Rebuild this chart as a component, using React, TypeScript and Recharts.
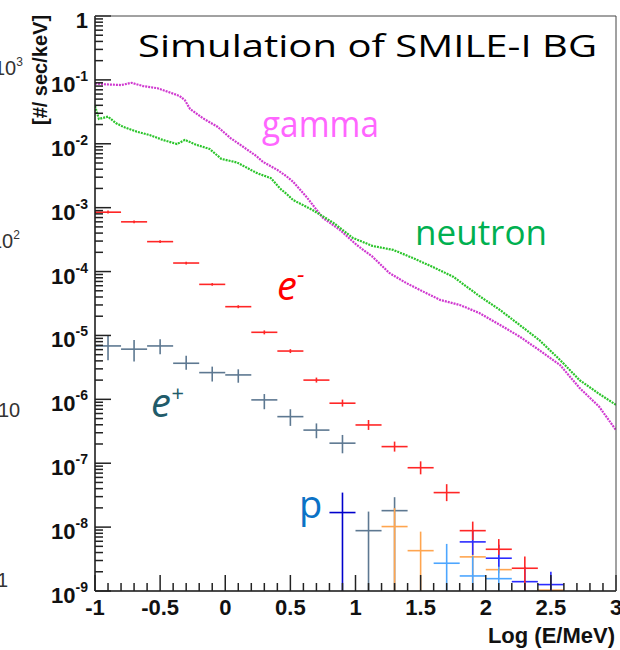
import React from "react";
import { ComposedChart, Line, Scatter, ErrorBar, XAxis, YAxis } from "recharts";

// gamma spectrum (Log E/MeV vs counts/sec/keV)
const gammaLogE = [
  -1.0, -0.96, -0.8, -0.72, -0.63, -0.52, -0.42, -0.35, -0.31, -0.27, -0.17, -0.06, 0.04, 0.14,
  0.24, 0.29, 0.4, 0.47, 0.52, 0.63, 0.75, 0.88, 1.01, 1.13, 1.26, 1.39, 1.52, 1.65, 1.8, 1.95,
  2.11, 2.26, 2.41, 2.57, 2.72, 2.87, 3.0,
];
const gammaRate = [
  0.0885, 0.086, 0.083, 0.09, 0.08, 0.074, 0.063, 0.056, 0.048, 0.035, 0.025, 0.0185, 0.0123,
  0.0089, 0.0064, 0.0052, 0.0039, 0.0031, 0.00255, 0.00142, 6.9e-4, 4.5e-4, 2.6e-4, 1.71e-4,
  9.5e-5, 6.6e-5, 4.85e-5, 3.6e-5, 3.0e-5, 2.25e-5, 1.46e-5, 9.6e-6, 5.9e-6, 3.45e-6, 1.51e-6,
  7.7e-7, 3.3e-7,
];

// neutron spectrum
const neutronLogE = [
  -1.0, -0.97, -0.9, -0.84, -0.78, -0.68, -0.58, -0.48, -0.37, -0.31, -0.22, -0.12, -0.03, 0.09,
  0.14, 0.24, 0.35, 0.42, 0.48, 0.52, 0.67, 0.83, 0.98, 1.13, 1.29, 1.44, 1.59, 1.75, 1.95, 2.11,
  2.26, 2.41, 2.57, 2.72, 2.87, 3.0,
];
const neutronRate = [
  0.039, 0.0244, 0.0266, 0.0211, 0.0183, 0.0155, 0.0137, 0.0115, 0.0099, 0.0115, 0.0096, 0.0083,
  0.0058, 0.0051, 0.0045, 0.0035, 0.0029, 0.002, 0.00158, 0.00132, 9.2e-4, 5.8e-4, 3.36e-4,
  2.52e-4, 2.18e-4, 1.63e-4, 1.19e-4, 8.3e-5, 4.15e-5, 2.5e-5, 1.46e-5, 8.5e-6, 4.14e-6, 2.0e-6,
  1.22e-6, 8.2e-7,
];

// electrons (bin centres, bin width 0.2)
const electronLogE = [-0.9, -0.7, -0.5, -0.3, -0.1, 0.1, 0.3, 0.5, 0.7, 0.9, 1.1, 1.3, 1.5, 1.7, 1.9, 2.1, 2.3];
const electronRate = [
  8.5e-4, 6.0e-4, 2.94e-4, 1.36e-4, 6.3e-5, 2.82e-5, 1.12e-5, 5.7e-6, 2.0e-6, 8.7e-7, 3.97e-7,
  1.82e-7, 8.5e-8, 3.47e-8, 8.8e-9, 4.5e-9, 2.27e-9,
];
const electronLow = [
  8.1e-4, 5.7e-4, 2.8e-4, 1.29e-4, 6.0e-5, 2.67e-5, 1.04e-5, 5.3e-6, 1.83e-6, 7.7e-7, 3.32e-7,
  1.52e-7, 6.7e-8, 2.55e-8, 6.3e-9, 3.67e-9, 1.0e-9,
];
const electronHigh = [
  9.0e-4, 6.3e-4, 3.1e-4, 1.43e-4, 6.6e-5, 2.97e-5, 1.2e-5, 6.1e-6, 2.19e-6, 9.9e-7, 4.75e-7,
  2.18e-7, 1.07e-7, 4.7e-8, 1.22e-8, 6.5e-9, 3.46e-9,
];

// positrons
const positronLogE = [-0.9, -0.7, -0.5, -0.3, -0.1, 0.1, 0.3, 0.5, 0.7, 0.9, 1.1, 1.3];
const positronRate = [6.85e-6, 6.1e-6, 6.85e-6, 3.67e-6, 2.62e-6, 2.41e-6, 9.8e-7, 5.36e-7, 3.3e-7, 2.06e-7, 8.8e-9, 1.81e-8];
const positronLow = [4.1e-6, 3.9e-6, 5.1e-6, 2.9e-6, 1.9e-6, 1.82e-6, 7.0e-7, 3.84e-7, 2.46e-7, 1.43e-7, 1e-9, 1e-9];
const positronHigh = [1.02e-5, 8.5e-6, 8.7e-6, 4.8e-6, 3.25e-6, 2.95e-6, 1.21e-6, 7.0e-7, 4.2e-7, 2.77e-7, 1.75e-8, 2.94e-8];

// protons, several components
const protonDarkLogE = [0.9];
const protonDarkRate = [1.69e-8];
const protonDarkLow = [1e-9];
const protonDarkHigh = [3.47e-8];

const protonOrangeLogE = [1.3, 1.5, 1.9, 2.1, 2.5];
const protonOrangeRate = [1.02e-8, 4.28e-9, 3.42e-9, 2.16e-9, 1.03e-9];
const protonOrangeLow = [1e-9, 1e-9, 1e-9, 1.9e-9, 1e-9];
const protonOrangeHigh = [1.98e-8, 8.5e-9, 9.0e-9, 2.5e-9, 1.68e-9];

const protonBlueLogE = [1.9, 2.1, 2.3, 2.5];
const protonBlueRate = [5.87e-9, 3.26e-9, 1.4e-9, 1.26e-9];
const protonBlueLow = [3.67e-9, 2.4e-9, 1e-9, 1e-9];
const protonBlueHigh = [9.0e-9, 5.3e-9, 2.4e-9, 2.0e-9];

const protonLightLogE = [1.7, 1.9, 2.1];
const protonLightRate = [2.72e-9, 1.72e-9, 1.56e-9];
const protonLightLow = [1e-9, 1e-9, 1e-9];
const protonLightHigh = [5.46e-9, 3.5e-9, 3.67e-9];

const xTickLabels = [-1, -0.5, 0, 0.5, 1, 1.5, 2, 2.5, 3];
const BIN_HALF = 0.1;

const W = 620;
const H = 650;
const PLOT_L = 95;
const PLOT_R = 616;
const PLOT_T = 16;
const PLOT_B = 591;

const lineRows = (xs: number[], ys: number[]) => xs.map((x, i) => ({ x, y: ys[i] }));
const crossRows = (xs: number[], ys: number[], lo: number[], hi: number[]) =>
  xs.map((x, i) => ({ x, y: ys[i], ex: BIN_HALF, ey: [ys[i] - lo[i], hi[i] - ys[i]] }));

const xTicks: number[] = [];
for (let i = 0; i <= 40; i++) xTicks.push(Math.round((-1 + i * 0.1) * 10) / 10);
const yTicks: number[] = [];
for (let n = -9; n <= 0; n++) {
  for (let m = 1; m <= 9; m++) {
    if (n === 0 && m > 1) break;
    yTicks.push(m * Math.pow(10, n));
  }
}

const tickFont = "'Liberation Sans', Arial, sans-serif";
const labelFont = "'Open Sans', 'DejaVu Sans', sans-serif";

function XTick(props: any) {
  const { x, y, payload } = props;
  const v = payload.value;
  const major = xTickLabels.some((t) => Math.abs(t - v) < 1e-6);
  return (
    <g>
      <line x1={x} x2={x} y1={y} y2={y - (major ? 16 : 8)} stroke="#222" strokeWidth={1.5} />
      {major && (
        <text x={x} y={y + 24} textAnchor="middle" fontFamily={tickFont} fontWeight="bold" fontSize={22} fill="#111">
          {String(v)}
        </text>
      )}
    </g>
  );
}

function YTick(props: any) {
  const { x, y, payload } = props;
  const lg = Math.log10(payload.value);
  const e = Math.round(lg);
  const major = Math.abs(lg - e) < 1e-6;
  return (
    <g>
      <line x1={x} x2={x + (major ? 16 : 8)} y1={y} y2={y} stroke="#222" strokeWidth={1.5} />
      {major && (
        <text x={x - 7} y={y + 12} textAnchor="end" fontFamily={tickFont} fontWeight="bold" fontSize={22} fill="#111">
          {e === 0 ? (
            "1"
          ) : (
            <>
              <tspan>10</tspan>
              <tspan dy={-11} fontSize={14}>
                {String(e)}
              </tspan>
            </>
          )}
        </text>
      )}
    </g>
  );
}

const noMarker = () => <g />;

function Crosses({ rows, color, width = 1.5 }: { rows: any[]; color: string; width?: number }) {
  return null;
}

export default function App() {
  const crossSeries = [
    { name: "positron", rows: crossRows(positronLogE, positronRate, positronLow, positronHigh), color: "#5d7891" },
    { name: "pOrange", rows: crossRows(protonOrangeLogE, protonOrangeRate, protonOrangeLow, protonOrangeHigh), color: "#ffa54f" },
    { name: "pLight", rows: crossRows(protonLightLogE, protonLightRate, protonLightLow, protonLightHigh), color: "#4da6ff" },
    { name: "pDark", rows: crossRows(protonDarkLogE, protonDarkRate, protonDarkLow, protonDarkHigh), color: "#0000cc" },
    { name: "pBlue", rows: crossRows(protonBlueLogE, protonBlueRate, protonBlueLow, protonBlueHigh), color: "#2b2bff" },
    { name: "electron", rows: crossRows(electronLogE, electronRate, electronLow, electronHigh), color: "#ff2626" },
  ];

  return (
    <div style={{ position: "absolute", left: 0, top: 0, width: W, height: H, background: "#fff" }}>
      <ComposedChart width={W} height={H} margin={{ top: PLOT_T, right: W - PLOT_R, bottom: 0, left: 0 }}>
        <XAxis
          type="number"
          dataKey="x"
          domain={[-1, 3]}
          allowDataOverflow
          ticks={xTicks}
          interval={0}
          height={H - PLOT_B}
          tickSize={0}
          tickMargin={0}
          tickLine={false}
          axisLine={{ stroke: "#111", strokeWidth: 1.5 }}
          tick={<XTick />}
        />
        <YAxis
          type="number"
          dataKey="y"
          scale="log"
          domain={[1e-9, 1]}
          allowDataOverflow
          ticks={yTicks}
          interval={0}
          width={PLOT_L}
          tickSize={0}
          tickMargin={0}
          tickLine={false}
          axisLine={{ stroke: "#111", strokeWidth: 1.5 }}
          tick={<YTick />}
        />
        <Line
          data={lineRows(gammaLogE, gammaRate)}
          dataKey="y"
          type="linear"
          stroke="#d03ad0"
          strokeWidth={2.2}
          strokeDasharray="2 1"
          dot={false}
          isAnimationActive={false}
        />
        <Line
          data={lineRows(neutronLogE, neutronRate)}
          dataKey="y"
          type="linear"
          stroke="#2cc52c"
          strokeWidth={2.2}
          strokeDasharray="2 1"
          dot={false}
          isAnimationActive={false}
        />
        {crossSeries.map((s) => (
          <Scatter key={s.name} data={s.rows} dataKey="y" shape={noMarker} isAnimationActive={false}>
            <ErrorBar dataKey="ex" direction="x" width={0} stroke={s.color} strokeWidth={1.6} isAnimationActive={false} />
            <ErrorBar dataKey="ey" direction="y" width={0} stroke={s.color} strokeWidth={1.6} isAnimationActive={false} />
          </Scatter>
        ))}
      </ComposedChart>
      <svg width={W} height={H} style={{ position: "absolute", left: 0, top: 0, pointerEvents: "none" }}>
        <line x1={PLOT_L} x2={PLOT_R} y1={PLOT_T} y2={PLOT_T} stroke="#444" strokeWidth={1} />
        <line x1={PLOT_R} x2={PLOT_R} y1={PLOT_T} y2={PLOT_B} stroke="#444" strokeWidth={1} />

        <text x={138} y={57} fontFamily={labelFont} fontSize={31} fill="#000" textLength={459} lengthAdjust="spacingAndGlyphs">
          Simulation of SMILE-I BG
        </text>
        <text x={262} y={137} fontFamily={labelFont} fontSize={36} fill="#ff66ff" textLength={117} lengthAdjust="spacingAndGlyphs">
          gamma
        </text>
        <text x={415} y={245} fontFamily={labelFont} fontSize={34} fill="#00b050" textLength={132} lengthAdjust="spacingAndGlyphs">
          neutron
        </text>
        <text x={277} y={300} fontFamily={labelFont} fontSize={40} fontStyle="italic" fill="#ff0000">
          e
          <tspan dy={-17} fontSize={24}>
            -
          </tspan>
        </text>
        <text x={151} y={417} fontFamily={labelFont} fontSize={40} fontStyle="italic" fill="#215b6a">
          e
          <tspan dy={-16} fontSize={22}>
            +
          </tspan>
        </text>
        <text x={299} y={518} fontFamily={labelFont} fontSize={38} fill="#0b72c6">
          p
        </text>

        <text
          transform="translate(47 70) rotate(-90)"
          textAnchor="middle"
          fontFamily={tickFont}
          fontWeight="bold"
          fontSize={20}
          fill="#111"
        >
          [#/ sec/keV]
        </text>
        <text x={615} y={643} textAnchor="end" fontFamily={tickFont} fontWeight="bold" fontSize={22} fill="#111">
          Log (E/MeV)
        </text>

        <g fontFamily={tickFont} fontSize={20} fill="#333">
          <text x={-6} y={75}>
            10<tspan dy={-9} fontSize={12}>3</tspan>
          </text>
          <text x={-9} y={248}>
            10<tspan dy={-9} fontSize={12}>2</tspan>
          </text>
          <text x={-2} y={417}>10</text>
          <text x={-3} y={587}>1</text>
        </g>
      </svg>
    </div>
  );
}
